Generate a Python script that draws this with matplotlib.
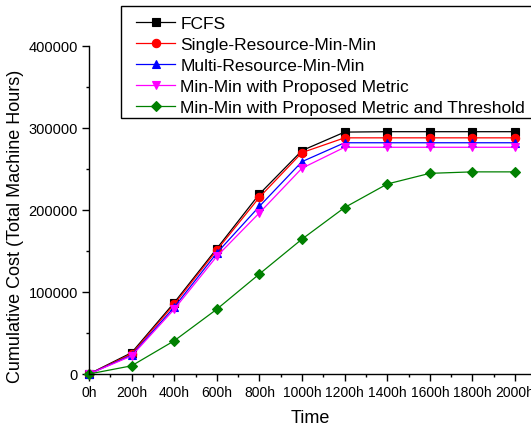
import matplotlib
matplotlib.use("Agg")
import matplotlib.pyplot as plt
from matplotlib.ticker import MultipleLocator
from matplotlib.patches import Rectangle

plt.rcParams['font.family'] = ['Liberation Sans', 'DejaVu Sans']

hours = [0, 200, 400, 600, 800, 1000, 1200, 1400, 1600, 1800, 2000]
tick_labels = [f"{h}h" for h in hours]

fcfs = [0, 26000, 87000, 153000, 219500, 272500, 295000, 295500, 295500, 295500, 295500]
single = [0, 24500, 85000, 151000, 215500, 270000, 288000, 288000, 288000, 288000, 288000]
multi = [0, 23000, 81500, 147500, 204500, 259000, 282000, 282000, 282000, 282000, 282000]
proposed = [0, 22000, 79000, 143500, 196500, 251000, 276500, 276500, 276500, 276500, 276500]
threshold = [0, 10000, 40500, 79000, 122000, 164500, 203000, 231700, 244700, 246500, 246500]

series = [
    ("FCFS", fcfs, "#000000", "s"),
    ("Single-Resource-Min-Min", single, "#FF0000", "o"),
    ("Multi-Resource-Min-Min", multi, "#0000FF", "^"),
    ("Min-Min with Proposed Metric", proposed, "#FF00FF", "v"),
    ("Min-Min with Proposed Metric and Threshold", threshold, "#008000", "D"),
]

W, H = 531, 427
fig = plt.figure(figsize=(W/100, H/100), dpi=100)
ax = fig.add_axes([89/W, 52/H, 1 - 89/W, (375-47)/H])

handles = []
for name, vals, col, mk in series:
    ms = 6 if mk != "D" else 5.5
    h, = ax.plot(hours, vals, color=col, marker=mk, markersize=ms, linewidth=0.9,
                 markeredgewidth=0.8, markeredgecolor=col, clip_on=False, label=name)
    handles.append(h)

ax.set_xlim(0, 2075)
ax.set_ylim(0, 400000)
ax.set_xticks(hours)
ax.set_xticklabels(tick_labels)
ax.xaxis.set_minor_locator(MultipleLocator(100))
ax.set_yticks([0, 100000, 200000, 300000, 400000])
ax.yaxis.set_minor_locator(MultipleLocator(50000))

for s in ["top", "right"]:
    ax.spines[s].set_visible(False)
for s in ["left", "bottom"]:
    ax.spines[s].set_linewidth(1.0)

ax.tick_params(axis='both', which='major', direction='out', length=5, width=1.0, labelsize=10, pad=3)
ax.tick_params(axis='y', which='major', labelsize=10.5)
ax.tick_params(axis='both', which='minor', direction='out', length=2.5, width=1.0)

ax.set_xlabel("Time", fontsize=13, labelpad=7)
ax.set_ylabel("Cumulative Cost (Total Machine Hours)", fontsize=13)
ax.yaxis.set_label_coords((24 - 89) / 442, (375 - 226.5) / 328)

# legend frame drawn explicitly
fig.patches.append(Rectangle((121/W, 1 - 119/H), 420/W, 112/H, transform=fig.transFigure,
                             facecolor='white', edgecolor='black', linewidth=1.0, zorder=3))
leg = fig.legend(handles=handles, loc='upper left', bbox_to_anchor=(136/W, 1 - 17/H),
                 bbox_transform=fig.transFigure, borderaxespad=0, borderpad=0, frameon=False,
                 fontsize=12.5, handlelength=2.25, labelspacing=0.33, handletextpad=0.3)
leg.set_zorder(4)

fig.savefig("out.png", dpi=100)
